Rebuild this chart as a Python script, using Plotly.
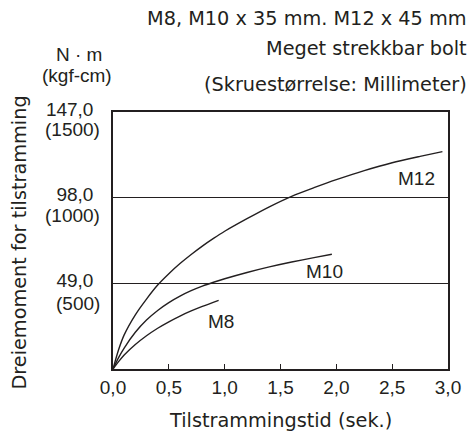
import plotly.graph_objects as go

# ---- data ----
m12_t = [0, 0.05, 0.1, 0.2, 0.3, 0.4, 0.5, 0.6, 0.7, 0.8, 0.9, 1.0, 1.2, 1.4, 1.6, 1.8, 2.0, 2.25, 2.5, 2.75, 2.95]
m12_v = [0, 11, 19.5, 31, 40, 48, 54.5, 60.3, 65.5, 70.3, 74.7, 78.8, 86, 92.8, 98.8, 103.7, 108.3, 113.5, 118, 121.6, 124.3]

m10_t = [0, 0.05, 0.1, 0.2, 0.3, 0.4, 0.5, 0.6, 0.7, 0.8, 0.9, 1.0, 1.2, 1.4, 1.6, 1.8, 1.96]
m10_v = [0, 6.5, 12, 21, 28, 33.5, 38, 41.7, 44.8, 47.4, 49.6, 51.6, 55.2, 58.4, 61.2, 63.7, 65.6]

m8_t = [0, 0.05, 0.1, 0.2, 0.3, 0.4, 0.5, 0.6, 0.7, 0.8, 0.946]
m8_v = [0, 4.2, 8, 14, 19, 23.3, 27, 30.3, 33.2, 35.8, 39.3]

series_names = ["M12", "M10", "M8"]
label_pos = [(2.72, 109), (1.89, 56), (0.97, 27.2)]

x_ticks = [0, 0.5, 1.0, 1.5, 2.0, 2.5, 3.0]
x_ticktext = ["0,0", "0,5", "1,0", "1,5", "2,0", "2,5", "3,0"]
y_ticks = [49, 98, 147]
y_ticktext = ["49,0", "98,0", "147,0"]
y_ticktext_kgf = ["(500)", "(1000)", "(1500)"]

header_lines = ["M8, M10 x 35 mm. M12 x 45 mm", "Meget strekkbar bolt", "(Skruestørrelse: Millimeter)"]
unit_lines = ["N · m", "(kgf-cm)"]
x_title = "Tilstrammingstid (sek.)"
y_title = "Dreiemoment for tilstramming"

# ---- layout constants ----
W, H = 473, 437
ML, MR, MT, MB = 113, 23, 112, 68
PW, PH = W - ML - MR, H - MT - MB
INK = "#231f20"
TICKFONT = dict(family="Liberation Sans, Arial, sans-serif", size=19, color=INK)
WIDEFONT = dict(family="DejaVu Sans, sans-serif", size=19.3, color=INK)


def px(x):
    return (x - ML) / PW


def py(y):
    return (H - MB - y) / PH


fig = go.Figure()
for t, v in [(m12_t, m12_v), (m10_t, m10_v), (m8_t, m8_v)]:
    fig.add_trace(go.Scatter(x=t, y=v, mode="lines",
                             line=dict(color=INK, width=1.4, shape="spline", smoothing=0.7),
                             showlegend=False, hoverinfo="skip"))

annotations = []
for name, (lx, ly) in zip(series_names, label_pos):
    annotations.append(dict(x=lx, y=ly, xref="x", yref="y", text=name, showarrow=False,
                            font=TICKFONT, xanchor="center", yanchor="middle"))

# second line of the y tick labels (kgf-cm values)
kgf_y = [303, 215, 129]
for txt, yy in zip(y_ticktext_kgf, kgf_y):
    annotations.append(dict(x=px(101.5), y=py(yy), xref="paper", yref="paper", text=txt,
                            showarrow=False, font=TICKFONT, xanchor="right", yanchor="middle"))

header_y = [19, 48.3, 85]
for txt, yy in zip(header_lines, header_y):
    annotations.append(dict(x=px(471.5), y=py(yy), xref="paper", yref="paper", text=txt,
                            showarrow=False, font=WIDEFONT, xanchor="right", yanchor="middle"))

unit_pos = [(79.2, 54.5), (77.2, 75.5)]
for txt, (xx, yy) in zip(unit_lines, unit_pos):
    annotations.append(dict(x=px(xx), y=py(yy), xref="paper", yref="paper", text=txt,
                            showarrow=False, font=TICKFONT, xanchor="center", yanchor="middle"))

annotations.append(dict(x=px(281), y=py(420), xref="paper", yref="paper", text=x_title,
                        showarrow=False, font=WIDEFONT, xanchor="center", yanchor="middle"))
annotations.append(dict(x=px(18), y=py(243), xref="paper", yref="paper", text=y_title,
                        showarrow=False, font=WIDEFONT, xanchor="center", yanchor="middle",
                        textangle=-90))

fig.update_layout(
    width=W, height=H,
    margin=dict(l=ML, r=MR, t=MT, b=MB, pad=0),
    paper_bgcolor="white", plot_bgcolor="white",
    annotations=annotations,
    showlegend=False,
)
fig.update_xaxes(range=[0, 3], tickvals=x_ticks, ticktext=x_ticktext, ticks="inside",
                 ticklen=5, tickwidth=1.3, tickcolor=INK, showgrid=False, zeroline=False,
                 showline=True, linecolor=INK, linewidth=1.5, mirror=True,
                 tickfont=TICKFONT, ticklabelstandoff=0, fixedrange=True)
fig.update_yaxes(range=[0, 147], tickvals=y_ticks, ticktext=y_ticktext, ticks="",
                 showgrid=True, gridcolor=INK, gridwidth=1.3, zeroline=False,
                 showline=True, linecolor=INK, linewidth=1.5, mirror=True,
                 tickfont=TICKFONT, ticklabelstandoff=14, ticklabelshift=-3, fixedrange=True)

fig.write_html("out.html")
